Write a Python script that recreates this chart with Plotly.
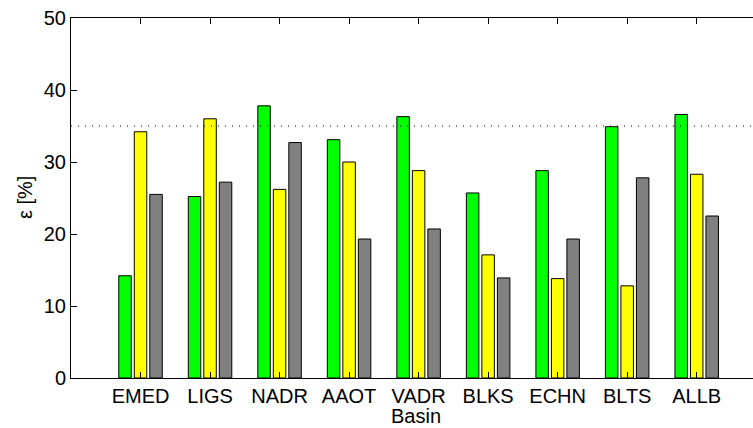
import plotly.graph_objects as go

basins = ["EMED", "LIGS", "NADR", "AAOT", "VADR", "BLKS", "ECHN", "BLTS", "ALLB"]
green_vals = [14.2, 25.2, 37.8, 33.1, 36.3, 25.7, 28.8, 34.9, 36.6]
yellow_vals = [34.2, 36.0, 26.2, 30.0, 28.8, 17.1, 13.8, 12.8, 28.3]
gray_vals = [25.5, 27.2, 32.7, 19.3, 20.7, 13.9, 19.3, 27.8, 22.5]
threshold = 35
y_ticks = [0, 10, 20, 30, 40, 50]

FONT = "Liberation Sans, Arial, sans-serif"
FS = 20

fig = go.Figure()
for vals, col in [(green_vals, "#00ff00"), (yellow_vals, "#ffff00"), (gray_vals, "#808080")]:
    fig.add_trace(go.Bar(
        x=basins, y=vals,
        marker=dict(color=col, line=dict(color="black", width=1)),
        showlegend=False,
    ))

fig.add_shape(type="line", xref="paper", x0=0, x1=1, yref="y", y0=threshold, y1=threshold,
              line=dict(color="black", width=1, dash="1px,6px"))

fig.add_annotation(text="ε [%]", xref="paper", yref="paper", x=-0.0674, y=0.5,
                   textangle=-90, showarrow=False, xanchor="center", yanchor="middle",
                   font=dict(family=FONT, size=FS, color="black"))
fig.add_annotation(text="Basin", xref="paper", yref="paper", x=0.506, y=-0.1385,
                   showarrow=False, xanchor="center", yanchor="bottom", borderpad=0,
                   font=dict(family=FONT, size=FS, color="black"))

fig.update_layout(
    width=753, height=428,
    margin=dict(l=71, r=0, t=18, b=50),
    paper_bgcolor="white", plot_bgcolor="white",
    barmode="group", bargap=0.331, bargroupgap=0.194,
    font=dict(family=FONT, size=FS, color="black"),
    xaxis=dict(
        range=[-1, 8.81], showgrid=False, zeroline=False,
        showline=True, linecolor="black", linewidth=1, mirror="ticks",
        ticks="inside", ticklen=6, tickcolor="black",
        tickfont=dict(family=FONT, size=FS, color="black"),
    ),
    yaxis=dict(
        range=[0, 50], tickvals=y_ticks, showgrid=False, zeroline=False,
        showline=True, linecolor="black", linewidth=1, mirror=False,
        ticks="inside", ticklen=6, tickcolor="black",
        tickfont=dict(family=FONT, size=FS, color="black"),
    ),
)

fig.write_html("out.html")
